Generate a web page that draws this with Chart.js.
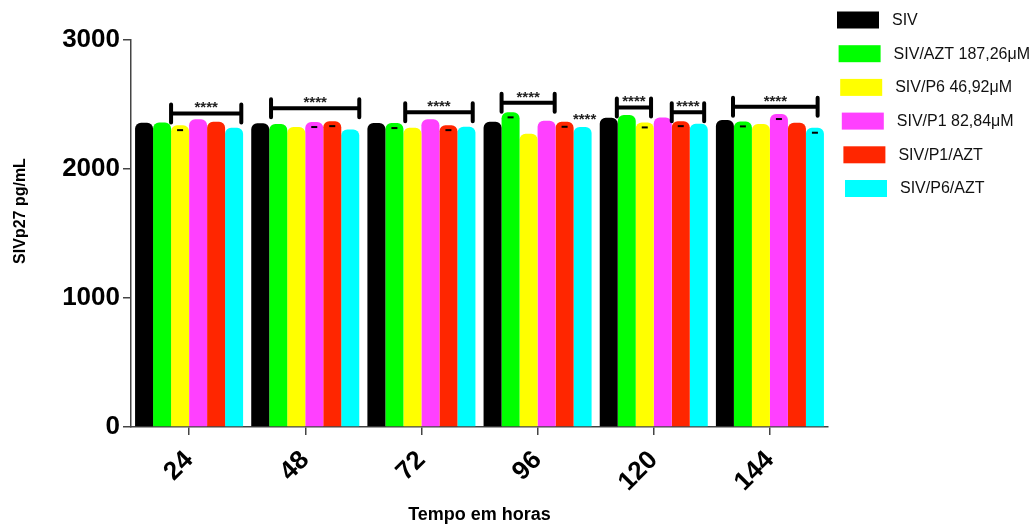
<!DOCTYPE html>
<html>
<head>
<meta charset="utf-8">
<script src="https://cdn.jsdelivr.net/npm/chart.js@4.4.0/dist/chart.umd.min.js"></script>
<style>
  body { margin: 0; background: #fff; }
  #wrap { width: 1030px; height: 527px; position: relative; }
</style>
</head>
<body>
<div id="wrap"><canvas id="myChart"></canvas></div>
<script>
var hours = ["24", "48", "72", "96", "120", "144"];
var seriesNames = ["SIV", "SIV/AZT 187,26\u03bcM", "SIV/P6 46,92\u03bcM", "SIV/P1 82,84\u03bcM", "SIV/P1/AZT", "SIV/P6/AZT"];
var barColors = ["#000000", "#00ff00", "#ffff00", "#ff40ff", "#ff2600", "#00ffff"];

var siv      = [2355, 2351, 2353, 2363, 2394, 2376];
var sivAzt   = [2358, 2345, 2353, 2436, 2415, 2366];
var sivP6    = [2337, 2322, 2317, 2270, 2358, 2345];
var sivP1    = [2382, 2361, 2382, 2371, 2397, 2423];
var sivP1Azt = [2363, 2368, 2337, 2363, 2368, 2355];
var sivP6Azt = [2317, 2304, 2324, 2322, 2348, 2317];

var yTicks = [0, 1000, 2000, 3000];

// small error caps seen on some bars: [series, hour]
var semMarks = [[2,0],[3,1],[4,1],[1,2],[4,2],[1,3],[4,3],[2,4],[4,4],[1,5],[3,5],[5,5]];
// significance brackets: [hour, from bar, to bar, y value]
var brackets = [[0,2,5.9,2428],[1,1.1,6,2467],[2,2.1,5.85,2436],[3,1,3.95,2510],[4,0.95,2.85,2474],[4,4,5.8,2436],[5,0.95,5.65,2479]];
// stars without bracket: [hour, series, y value]
var lonelyStars = [[3,5,2345]];

var allSeries = [siv, sivAzt, sivP6, sivP1, sivP1Azt, sivP6Azt];
var FONT = "'Liberation Sans', Arial, sans-serif";

var extras = {
  id: "extras",
  afterDatasetsDraw: function(chart) {
    var ctx = chart.ctx;
    var y = chart.scales.y;
    ctx.save();
    // error caps
    ctx.fillStyle = "#000";
    semMarks.forEach(function(m) {
      var el = chart.getDatasetMeta(m[0]).data[m[1]];
      ctx.fillRect(el.x - 3, el.y + 4, 6, 2);
    });
    // brackets
    ctx.strokeStyle = "#000";
    ctx.lineWidth = 4;
    ctx.lineCap = "round";
    ctx.font = "bold 15px " + FONT;
    ctx.textAlign = "center";
    ctx.textBaseline = "alphabetic";
    brackets.forEach(function(b) {
      var el = chart.getDatasetMeta(0).data[b[0]];
      var left = el.x - el.width / 2;
      var x1 = left + b[1] * el.width;
      var x2 = left + b[2] * el.width;
      var yy = y.getPixelForValue(b[3]);
      ctx.beginPath();
      ctx.moveTo(x1, yy); ctx.lineTo(x2, yy);
      ctx.moveTo(x1, yy - 9); ctx.lineTo(x1, yy + 9);
      ctx.moveTo(x2, yy - 9); ctx.lineTo(x2, yy + 9);
      ctx.stroke();
      ctx.fillStyle = "#222";
      ctx.fillText("****", (x1 + x2) / 2, yy - 1);
    });
    lonelyStars.forEach(function(s) {
      var el = chart.getDatasetMeta(s[1]).data[s[0]];
      ctx.fillStyle = "#222";
      ctx.fillText("****", el.x + 2, y.getPixelForValue(s[2]));
    });
    // y title
    ctx.save();
    ctx.translate(21, 211);
    ctx.rotate(-Math.PI / 2);
    ctx.font = "bold 16px " + FONT;
    ctx.fillStyle = "#000";
    ctx.textAlign = "center";
    ctx.textBaseline = "middle";
    ctx.fillText("SIVp27 pg/mL", 0, 0);
    ctx.restore();
    // legend
    ctx.font = "16px " + FONT;
    ctx.textAlign = "left";
    ctx.textBaseline = "middle";
    chart.data.datasets.forEach(function(ds, i) {
      var bx = 837 + i * 1.6;
      var by = 11.5 + i * 33.7;
      ctx.fillStyle = ds.backgroundColor;
      ctx.fillRect(bx, by, 42, 17);
      ctx.fillStyle = "#111";
      ctx.fillText(ds.label, bx + 55, by + 9);
    });
    ctx.restore();
  }
};

new Chart("myChart", {
  type: "bar",
  data: {
    labels: hours,
    datasets: allSeries.map(function(vals, i) {
      return {
        label: seriesNames[i],
        data: vals,
        backgroundColor: barColors[i],
        borderWidth: 0,
        borderRadius: {topLeft: 6, topRight: 6},
        categoryPercentage: 0.93,
        barPercentage: 1
      };
    })
  },
  options: {
    responsive: true,
    maintainAspectRatio: false,
    animation: false,
    layout: {padding: {top: 39.5, right: 202, bottom: 0, left: 0}},
    plugins: {
      legend: {display: false},
      tooltip: {enabled: false}
    },
    scales: {
      x: {
        afterFit: function(s) { s.height = 100; },
        grid: {display: true, offset: false, drawOnChartArea: false, color: "#444", lineWidth: 1.5, tickLength: 8},
        border: {display: true, color: "#444", width: 1.5},
        ticks: {
          autoSkip: false, minRotation: 45, maxRotation: 45, padding: 10,
          color: "#000", font: {family: FONT, size: 26, weight: "bold"}
        },
        title: {
          display: true, text: "Tempo em horas", color: "#000",
          font: {family: FONT, size: 18, weight: "bold"}, padding: {top: 4, bottom: 1}
        }
      },
      y: {
        min: 0, max: 3000,
        afterFit: function(s) { s.width = 131; },
        afterBuildTicks: function(s) { s.ticks = yTicks.map(function(v) { return {value: v}; }); },
        grid: {display: true, drawOnChartArea: false, color: "#444", lineWidth: 1.5, tickLength: 8},
        border: {display: true, color: "#444", width: 1.5},
        ticks: {
          padding: 3, color: "#000", font: {family: FONT, size: 26, weight: "bold"},
          callback: function(v) { return String(v); }
        }
      }
    }
  },
  plugins: [extras]
});
</script>
</body>
</html>
